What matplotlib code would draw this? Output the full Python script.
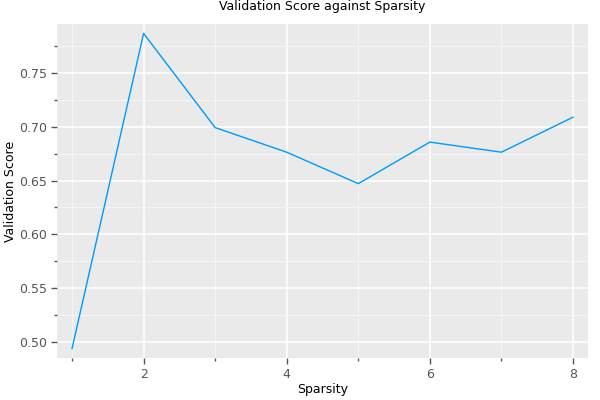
import matplotlib
matplotlib.use("Agg")
import matplotlib.pyplot as plt
from matplotlib.ticker import MultipleLocator

sparsity = [1, 2, 3, 4, 5, 6, 7, 8]
val_score = [0.4935, 0.787, 0.6993, 0.6764, 0.6471, 0.6858, 0.6764, 0.709]

plt.rcParams["font.family"] = "DejaVu Sans"

fig = plt.figure(figsize=(6, 4), dpi=100)
ax = fig.add_axes([57 / 600, 42 / 400, 531 / 600, 334 / 400])
ax.set_facecolor("#EAEAEA")

ax.plot(sparsity, val_score, color="#009AFA", lw=1.0, zorder=3)

ax.set_xlim(0.79, 8.21)
ax.set_ylim(0.4847, 0.7958)
ax.xaxis.set_major_locator(MultipleLocator(2))
ax.xaxis.set_minor_locator(MultipleLocator(1))
ax.yaxis.set_major_locator(MultipleLocator(0.05))
ax.yaxis.set_minor_locator(MultipleLocator(0.025))
ax.yaxis.set_major_formatter(plt.FuncFormatter(lambda v, p: f"{v:.2f}"))

ax.grid(True, which="major", color="white", lw=1.1)
ax.grid(True, which="minor", color="#F4F4F4", lw=0.8)
ax.set_axisbelow(True)

for s in ax.spines.values():
    s.set_visible(False)

ax.tick_params(which="major", length=4, width=1, color="#555555",
               labelcolor="#555555", labelsize=9, pad=3)
ax.tick_params(which="minor", length=2, width=1, color="#555555")

ax.set_xlabel("Sparsity", fontsize=9, labelpad=2)
ax.set_ylabel("Validation Score", fontsize=9)
ax.yaxis.set_label_coords(-0.075, 0.5)
ax.set_title("Validation Score against Sparsity", fontsize=9, pad=10)

fig.savefig("out.png", dpi=100)
